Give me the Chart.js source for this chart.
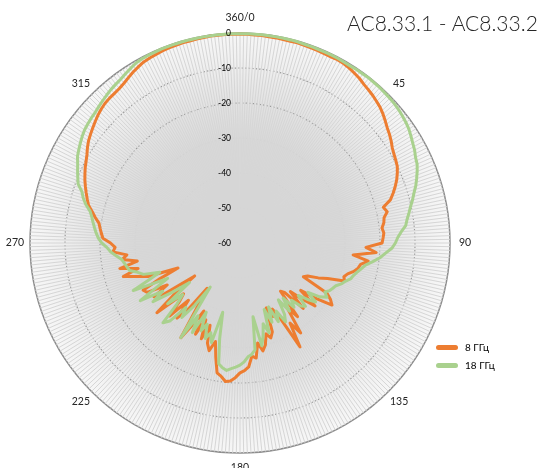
<!DOCTYPE html>
<html><head><meta charset="utf-8">
<script src="https://cdn.jsdelivr.net/npm/chart.js@4.4.1/dist/chart.umd.min.js"></script>
<style>
html,body{margin:0;padding:0;background:#fff;}
#wrap{position:relative;width:551px;height:468px;overflow:hidden;}
#c{position:absolute;left:0;top:0;}
#title{position:absolute;left:347px;top:10px;font:300 21px Lato,sans-serif;color:#262626;white-space:nowrap;}
.leg{position:absolute;left:436px;font:10px Lato,sans-serif;color:#000;white-space:nowrap;line-height:12px;}
.leg span{display:inline-block;width:22px;height:5px;border-radius:3px;vertical-align:middle;margin-right:7px;position:relative;top:-1px;}
</style></head>
<body>
<div id="wrap">
<canvas id="c" width="551" height="468"></canvas>
<div id="title"></div>
<div class="leg" id="leg0" style="top:341px"><span></span><b style="font-weight:normal"></b></div>
<div class="leg" id="leg1" style="top:359px"><span></span><b style="font-weight:normal"></b></div>
</div>
<script>
const chartTitle = 'AC8.33.1 - AC8.33.2';
const seriesNames = ['8 ГГц', '18 ГГц'];
const seriesColors = ['#ED7D31', '#A9D18E'];
const angleLabels = ['360/0', '45', '90', '135', '180', '225', '270', '315'];
const angleLabelDeg = [0, 45, 90, 135, 180, 225, 270, 315];
const tickValues = [0, -10, -20, -30, -40, -50, -60];
const stepDeg = 2; // values read every 2 degrees

const ghz8 = [
 -0.3,-0.3,-0.4,-0.4,-0.5,-0.5,-0.6,-0.6,-0.5,-0.6,
 -0.7,-0.7,-0.8,-0.8,-0.7,-0.8,-1.1,-1.5,-1.9,-2.5,
 -2.9,-3.3,-3.8,-4.3,-5.0,-5.8,-6.6,-7.2,-7.9,-8.7,
 -9.2,-9.6,-10.0,-10.8,-11.7,-12.8,-14.0,-15.3,-17.8,-17.0,
 -18.2,-18.5,-19.2,-18.8,-19.1,-19.4,-24.0,-21.0,-27.5,-23.0,
 -25.0,-25.5,-26.5,-28.0,-28.8,-28.2,-33.0,-35.5,-38.5,-39.5,
 -31.3,-29.5,-28.3,-33.0,-38.0,-32.0,-36.0,-40.0,-34.0,-41.0,
 -42.0,-33.3,-37.0,-29.0,-33.0,-25.7,-36.0,-39.0,-37.0,-40.0,
 -33.0,-31.5,-33.0,-30.0,-28.5,-31.0,-26.8,-27.5,-24.5,-23.5,
 -22.9,-21.5,-20.5,-20.2,-21.5,-22.3,-26.7,-31.0,-28.0,-29.9,
 -35.0,-30.5,-36.0,-31.0,-38.0,-33.0,-28.1,-39.0,-44.0,-36.0,
 -32.0,-38.0,-31.0,-36.0,-38.3,-29.0,-36.0,-44.0,-34.0,-31.0,
 -36.0,-30.0,-29.2,-35.0,-40.9,-32.0,-29.0,-25.3,-30.0,-24.9,
 -30.2,-26.0,-27.5,-23.6,-24.3,-23.0,-20.8,-20.3,-19.8,-19.3,
 -18.0,-16.8,-15.4,-14.6,-13.8,-13.0,-12.2,-11.5,-10.8,-10.2,
 -9.5,-8.6,-7.8,-7.2,-6.6,-6.0,-5.4,-4.9,-4.5,-4.3,
 -4.2,-4.0,-3.6,-3.0,-2.4,-1.9,-1.4,-1.2,-1.0,-0.8,
 -0.7,-0.6,-0.5,-0.5,-0.4,-0.4,-0.3,-0.3,-0.3,-0.3
];
const ghz18 = [
 -0.2,-0.2,-0.2,-0.2,-0.2,-0.2,-0.2,-0.2,-0.2,-0.3,
 -0.3,-0.3,-0.3,-0.3,-0.3,-0.4,-0.4,-0.3,-0.3,-0.2,
 -0.3,-0.3,-0.4,-0.5,-0.6,-0.8,-1.1,-1.4,-1.8,-2.4,
 -3.0,-3.5,-4.2,-4.6,-5.4,-6.3,-7.2,-8.3,-9.2,-10.2,
 -11.0,-11.8,-12.4,-13.8,-14.9,-15.6,-16.6,-18.3,-19.8,-21.7,
 -23.6,-24.6,-25.5,-26.3,-26.8,-28.0,-28.8,-30.0,-30.5,-31.0,
 -32.0,-30.7,-32.5,-36.0,-32.6,-35.0,-37.6,-34.0,-35.0,-38.0,
 -36.0,-40.0,-35.9,-40.4,-36.0,-34.0,-38.0,-35.0,-40.0,-35.6,
 -39.8,-33.0,-36.0,-32.7,-30.0,-38.6,-29.2,-28.0,-27.4,-26.0,
 -25.1,-24.5,-24.0,-23.4,-24.0,-25.0,-32.0,-39.6,-30.4,-33.0,
 -31.0,-35.0,-32.6,-38.0,-31.0,-36.0,-28.1,-44.8,-38.0,-33.0,
 -36.0,-30.0,-28.3,-35.0,-38.0,-33.0,-41.7,-36.0,-30.0,-34.0,
 -27.1,-33.0,-37.0,-26.6,-32.0,-35.6,-31.0,-29.6,-27.5,-27.0,
 -26.5,-25.9,-24.5,-23.0,-22.0,-20.5,-19.5,-18.8,-18.2,-17.6,
 -17.0,-16.2,-14.6,-13.4,-12.5,-10.8,-10.0,-9.2,-8.4,-7.4,
 -6.8,-6.2,-5.6,-5.1,-4.8,-4.5,-4.3,-3.9,-3.5,-3.1,
 -2.7,-2.4,-2.1,-1.6,-1.1,-0.6,-0.4,-0.3,-0.3,-0.2,
 -0.2,-0.2,-0.2,-0.2,-0.2,-0.2,-0.2,-0.2,-0.2,-0.2
];

const degreeLabels = Array.from({length: 360}, (_, i) => String(i));
function spread(vals) {
  const out = new Array(360).fill(null);
  vals.forEach((v, k) => { out[k * stepDeg] = v; });
  return out;
}

document.getElementById('title').textContent = chartTitle;
[0, 1].forEach(i => {
  const el = document.getElementById('leg' + i);
  el.querySelector('span').style.background = seriesColors[i];
  el.querySelector('b').textContent = seriesNames[i];
});

const shadePlugin = {
  id: 'polarShade',
  beforeDraw(chart) {
    const s = chart.scales.r;
    const ctx = chart.ctx;
    const R = s.drawingArea;
    const g = ctx.createRadialGradient(s.xCenter, s.yCenter, 0, s.xCenter, s.yCenter, R);
    g.addColorStop(0, '#d9d9d9');
    g.addColorStop(0.5, '#d9d9d9');
    g.addColorStop(0.68, '#e3e3e3');
    g.addColorStop(0.85, '#efefef');
    g.addColorStop(1, '#f7f7f7');
    ctx.save();
    ctx.beginPath();
    ctx.arc(s.xCenter, s.yCenter, R, 0, Math.PI * 2);
    ctx.fillStyle = g;
    ctx.fill();
    ctx.restore();
  }
};

const labelPlugin = {
  id: 'polarLabels',
  afterDraw(chart) {
    const s = chart.scales.r;
    const ctx = chart.ctx;
    ctx.save();
    ctx.fillStyle = '#000';
    ctx.font = '8.5px Lato, sans-serif';
    ctx.textAlign = 'right';
    ctx.textBaseline = 'middle';
    tickValues.forEach(v => {
      const d = s.getDistanceFromCenterForValue(v);
      ctx.fillText(String(v), s.xCenter - 9, s.yCenter - d);
    });
    ctx.fillStyle = '#262626';
    ctx.font = '10.5px Lato, sans-serif';
    ctx.textAlign = 'center';
    angleLabelDeg.forEach((deg, i) => {
      const p = s.getPointPosition(deg, s.drawingArea + 15);
      ctx.fillText(angleLabels[i], p.x, p.y);
    });
    ctx.restore();
  }
};

function ringColor(c) {
  if (!c.tick) return '#9a9a9a';
  if (c.tick.value === 0) return '#8c8c8c';
  if (c.tick.value <= -30) return '#d2d2d2';
  return '#9a9a9a';
}

new Chart(document.getElementById('c'), {
  type: 'radar',
  data: {
    labels: degreeLabels,
    datasets: [
      { label: seriesNames[0], data: spread(ghz8), borderColor: seriesColors[0], backgroundColor: 'transparent',
        borderWidth: 3, pointRadius: 0, fill: false, spanGaps: true, tension: 0, order: 1 },
      { label: seriesNames[1], data: spread(ghz18), borderColor: seriesColors[1], backgroundColor: 'transparent',
        borderWidth: 3, pointRadius: 0, fill: false, spanGaps: true, tension: 0, order: 0 }
    ]
  },
  options: {
    responsive: false,
    devicePixelRatio: 1,
    animation: false,
    layout: { padding: { left: 30, top: 33, right: 101, bottom: 15 } },
    plugins: { legend: { display: false }, title: { display: false }, tooltip: { enabled: false } },
    elements: { line: { borderJoinStyle: 'round' } },
    scales: {
      r: {
        min: -60, max: 0,
        ticks: { display: false, stepSize: 10 },
        pointLabels: { display: false },
        angleLines: { display: true, color: '#d6d6d6', lineWidth: 1 },
        grid: {
          circular: true,
          color: ringColor,
          lineWidth: c => (c.tick && c.tick.value === 0) ? 1.5 : 1.2
        },
        border: { dash: c => (c.tick && c.tick.value === 0) ? [] : [1.5, 2] }
      }
    }
  },
  plugins: [shadePlugin, labelPlugin]
});
</script>
</body></html>
